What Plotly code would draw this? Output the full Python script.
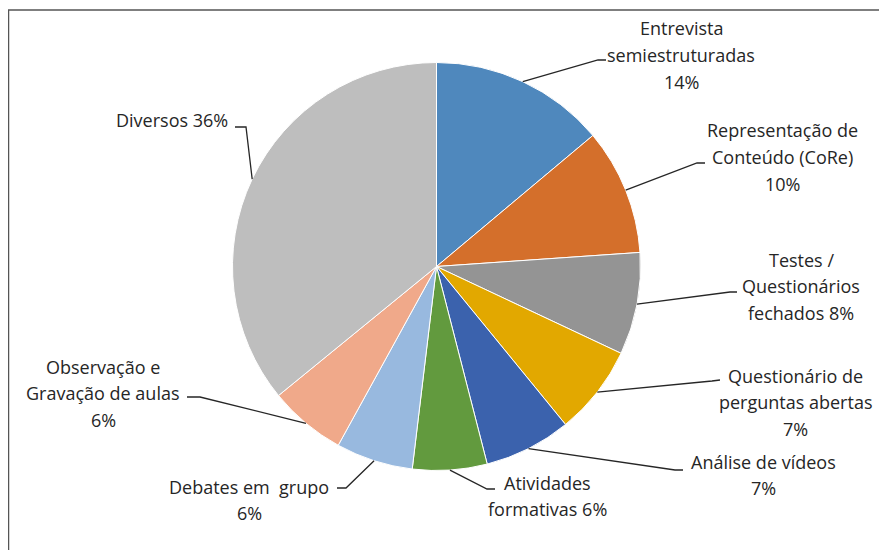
import math
import plotly.graph_objects as go

# ---------------- data ----------------
categories = [
    "Entrevista semiestruturadas",
    "Representação de Conteúdo (CoRe)",
    "Testes / Questionários fechados",
    "Questionário de perguntas abertas",
    "Análise de vídeos",
    "Atividades formativas",
    "Debates em  grupo",
    "Observação e Gravação de aulas",
    "Diversos",
]
values = [13.9, 10.0, 8.1, 7.1, 6.9, 5.9, 6.1, 6.1, 35.9]
label_lines = [
    ["Entrevista", "semiestruturadas", "{p}"],
    ["Representação de", "Conteúdo (CoRe)", "{p}"],
    ["Testes /", "Questionários", "fechados {p}"],
    ["Questionário de", "perguntas abertas", "{p}"],
    ["Análise de vídeos", "{p}"],
    ["Atividades", "formativas {p}"],
    ["Debates em\u00a0 grupo", "{p}"],
    ["Observação e", "Gravação de aulas", "{p}"],
    ["Diversos {p}"],
]

# ---------------- styling / layout ----------------
colors = ["#4F88BD", "#D46F2B", "#949494", "#E2A800", "#3B62AD",
          "#629A3E", "#98B9DF", "#F0A98A", "#BEBEBE"]
W, H = 887, 550
OFF_X, OFF_Y = 8, 8          # page body margin
CX, CY, R = 436.5, 266.5, 204.0
FONT = "Open Sans"
FSIZE = 18
LINE_H = 26.5
TEXT_COLOR = "#262626"

# label block centre (px, screen) and leader elbow / end (px, screen)
label_pos = [(681, 55), (782, 157), (801, 286), (795, 402), (763, 475),
             (547, 496), (249, 500), (103, 393), (172, 120)]
leader_pts = [((598, 60), (606, 60)), ((697, 163), (705, 163)),
              ((730, 292), (737, 292)), ((712, 381), (720, 380)),
              ((675, 470), (683, 470)), ((487, 489), (495, 489)),
              ((346, 488), (337, 488)), ((200, 397), (187, 397)),
              ((246, 127), (235, 127))]


def px(x):
    return (x - OFF_X) / W


def py(y):
    return 1 - (y - OFF_Y) / H


fig = go.Figure(go.Pie(
    labels=categories,
    values=values,
    sort=False,
    direction="clockwise",
    rotation=0,
    textinfo="none",
    hoverinfo="label+percent",
    marker=dict(colors=colors, line=dict(color="white", width=1)),
    domain=dict(x=[px(CX - R), px(CX + R)], y=[py(CY + R), py(CY - R)]),
    showlegend=False,
))

total = sum(values)
annotations = []
shapes = []
cum = 0.0
for i, v in enumerate(values):
    mid = (cum + v / 2) / total * 2 * math.pi
    cum += v
    ax = CX + R * math.sin(mid)
    ay = CY - R * math.cos(mid)
    pct = f"{round(v / total * 100):d}%"
    lines = [s.format(p=pct) for s in label_lines[i]]
    lx, ly = label_pos[i]
    n = len(lines)
    for k, t in enumerate(lines):
        yk = ly + (k - (n - 1) / 2) * LINE_H
        annotations.append(dict(
            x=px(lx), y=py(yk), xref="paper", yref="paper",
            text=t, showarrow=False, xanchor="center", yanchor="middle",
            font=dict(family=FONT, size=FSIZE, color=TEXT_COLOR)))
    (ex, ey), (tx, ty) = leader_pts[i]
    shapes.append(dict(
        type="path", xref="paper", yref="paper",
        path=f"M {px(ax)} {py(ay)} L {px(ex)} {py(ey)} L {px(tx)} {py(ty)}",
        line=dict(color="#262626", width=1.3)))

# outer border
shapes.append(dict(type="rect", xref="paper", yref="paper",
                   x0=px(8.5), y0=-0.05, x1=1.05, y1=py(10),
                   line=dict(color="#555555", width=1.5)))

fig.update_layout(
    width=W, height=H,
    margin=dict(l=0, r=0, t=0, b=0),
    paper_bgcolor="white", plot_bgcolor="white",
    annotations=annotations, shapes=shapes,
)

fig.write_html("out.html")
